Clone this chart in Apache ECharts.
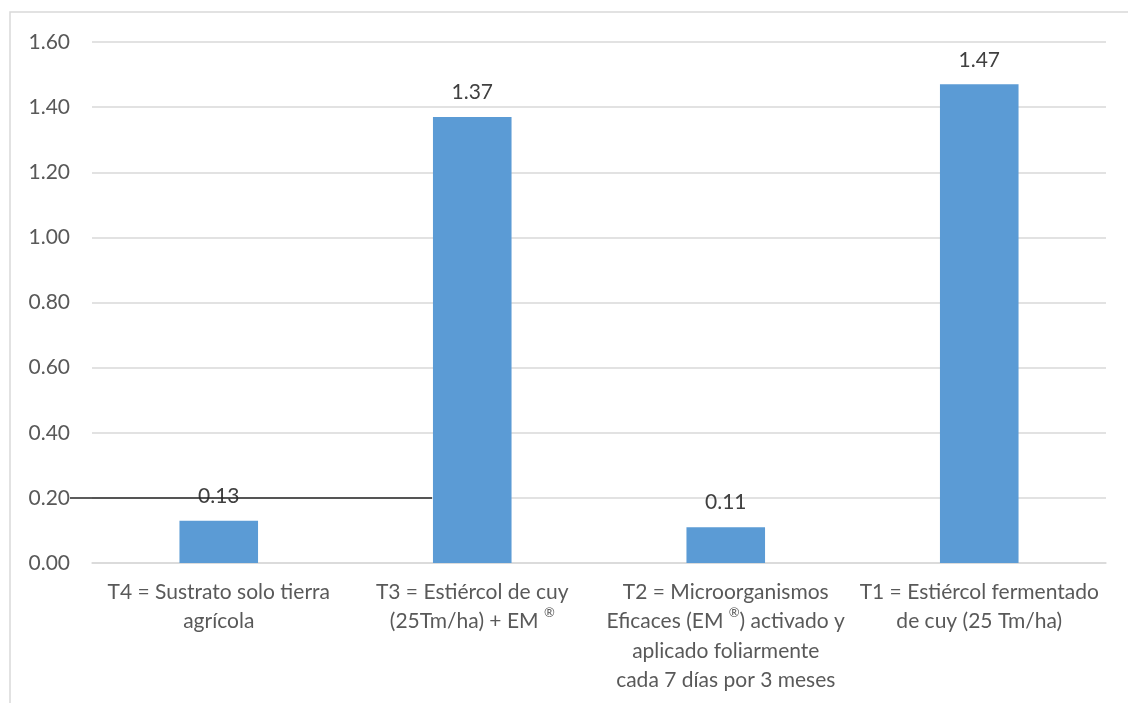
<!DOCTYPE html>
<html>
<head>
<meta charset="utf-8">
<style>
  html, body { margin: 0; padding: 0; background: #ffffff; }
  #chart { width: 1128px; height: 703px; }
</style>
<script src="https://cdn.jsdelivr.net/npm/echarts@6/dist/echarts.min.js"></script>
</head>
<body>
<div id="chart"></div>
<script>
// Treatments (category labels, with line breaks as laid out under the axis)
const categories = [
  'T4 = Sustrato solo tierra\nagrícola',
  'T3 = Estiércol de cuy\n(25Tm/ha) + EM ®',
  'T2 = Microorganismos\nEficaces (EM ®) activado y\naplicado foliarmente\ncada 7 días por 3 meses',
  'T1 = Estiércol fermentado\nde cuy (25 Tm/ha)'
];
const values = [0.13, 1.37, 0.11, 1.47];
const yTicks = { min: 0, max: 1.6, interval: 0.2 };
const refValue = 0.20;   // level of the dark reference rule

const FONT = 'Lato, "Open Sans", sans-serif';
const FS = 21;
const chart = echarts.init(document.getElementById('chart'), null, { renderer: 'canvas' });

// Registered-mark symbol is set smaller and raised
const withSup = s => s.split('\n')
  .map(line => line.split('®').map(p => p ? '{t|' + p + '}' : '').join('{s|®}'))
  .join('\n');

chart.setOption({
  animation: false,
  backgroundColor: '#ffffff',
  grid: { left: 92, right: 22, top: 42, bottom: 140 },
  xAxis: {
    type: 'category',
    data: categories,
    axisLine: { show: true, lineStyle: { color: '#d9d9d9', width: 1.5 } },
    axisTick: { show: false },
    axisLabel: {
      interval: 0,
      margin: 14,
      color: '#595959',
      fontFamily: FONT,
      fontSize: FS,
      lineHeight: 29.5,
      align: 'center',
      formatter: withSup,
      rich: {
        t: { color: '#595959', fontFamily: FONT, fontSize: FS, lineHeight: 29.5 },
        s: { color: '#595959', fontFamily: FONT, fontSize: 13, lineHeight: 29.5,
             verticalAlign: 'top', padding: [0, 0, 8, 0] }
      }
    }
  },
  yAxis: {
    type: 'value',
    min: yTicks.min,
    max: yTicks.max,
    interval: yTicks.interval,
    axisLine: { show: false },
    axisTick: { show: false },
    splitLine: { lineStyle: { color: '#d9d9d9', width: 1.5 } },
    axisLabel: {
      margin: 22,
      color: '#595959',
      fontFamily: FONT,
      fontSize: FS,
      formatter: v => v.toFixed(2)
    }
  },
  series: [{
    type: 'bar',
    data: values,
    barWidth: '31%',
    itemStyle: { color: '#5b9bd5' },
    label: {
      show: true,
      position: 'top',
      distance: 14,
      color: '#404040',
      fontFamily: FONT,
      fontSize: FS,
      formatter: p => p.value.toFixed(2)
    }
  }]
});

// Outer frame and the dark rule at the 0.20 level
const yRef = chart.convertToPixel({ yAxisIndex: 0 }, refValue);
chart.setOption({
  graphic: [
    {
      type: 'rect',
      shape: { x: 10, y: 12, width: 1200, height: 800 },
      style: { fill: null, stroke: '#d9d9d9', lineWidth: 1.5 },
      silent: true,
      z: -1
    },
    {
      type: 'line',
      shape: { x1: 70, y1: yRef, x2: 432, y2: yRef },
      style: { stroke: '#262626', lineWidth: 1.5 },
      z: 10
    }
  ]
});
</script>
</body>
</html>
